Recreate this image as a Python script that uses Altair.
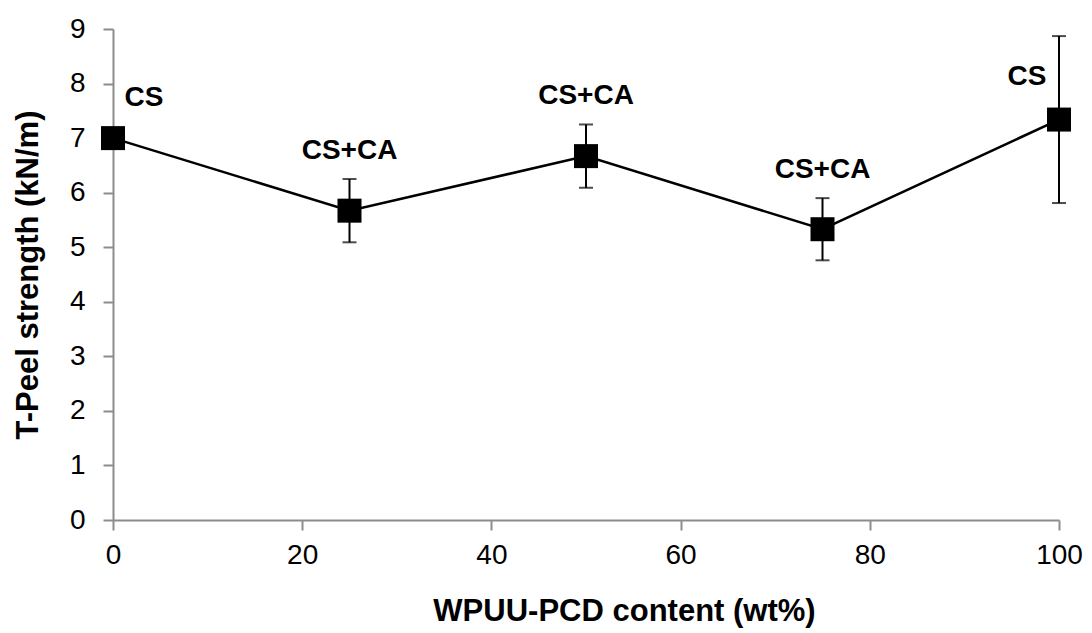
import altair as alt
import pandas as pd

content = [0, 25, 50, 75, 100]
strength = [7.0, 5.67, 6.67, 5.33, 7.34]
err = [0.0, 0.58, 0.58, 0.57, 1.53]
labels = ["CS", "CS+CA", "CS+CA", "CS+CA", "CS"]
label_side = ["right", "top", "top", "top", "left"]

df = pd.DataFrame({
    "x": content,
    "y": strength,
    "lo": [s - e for s, e in zip(strength, err)],
    "hi": [s + e for s, e in zip(strength, err)],
    "label": labels,
    "side": label_side,
})

FONT = "Liberation Sans"

xs = alt.X("x:Q", scale=alt.Scale(domain=[0, 100], nice=False),
           axis=alt.Axis(values=[0, 20, 40, 60, 80, 100], format="d", labelFlush=False,
                         title="WPUU-PCD content (wt%)", titleX=511))
ys = alt.Y("y:Q", scale=alt.Scale(domain=[0, 9], nice=False),
           axis=alt.Axis(values=list(range(10)), format="d", labelFlush=False,
                         title="T-Peel strength (kN/m)"))

base = alt.Chart(df)

line = base.mark_line(color="black", strokeWidth=2.5).encode(x=xs, y=ys)

eb = base.transform_filter("datum.hi > datum.lo")
rules = eb.mark_rule(color="black", strokeWidth=2).encode(x="x:Q", y="lo:Q", y2="hi:Q")
caps_hi = eb.mark_tick(color="black", orient="horizontal", size=14, thickness=2).encode(x="x:Q", y="hi:Q")
caps_lo = eb.mark_tick(color="black", orient="horizontal", size=14, thickness=2).encode(x="x:Q", y="lo:Q")

points = base.mark_square(color="black", size=576, opacity=1, filled=True).encode(x=xs, y=ys)

TS = 28
txt_top = base.transform_filter("datum.side == 'top'").mark_text(
    font=FONT, fontSize=TS, fontWeight="bold", color="black", dy=-28, baseline="middle").encode(
    x="x:Q", y="hi:Q", text="label:N")
txt_right = base.transform_filter("datum.side == 'right'").mark_text(
    font=FONT, fontSize=TS, fontWeight="bold", color="black", dx=31, dy=-40, baseline="middle").encode(
    x="x:Q", y="y:Q", text="label:N")
txt_left = base.transform_filter("datum.side == 'left'").mark_text(
    font=FONT, fontSize=TS, fontWeight="bold", color="black", dx=-32, dy=-43, baseline="middle").encode(
    x="x:Q", y="y:Q", text="label:N")

chart = alt.layer(line, rules, caps_hi, caps_lo, points, txt_top, txt_right, txt_left).properties(
    width=946, height=491,
    autosize=alt.AutoSizeParams(type="none"),
    padding={"left": 113, "top": 29, "right": 33, "bottom": 113},
).configure_view(stroke=None).configure_axis(
    grid=False,
    domainColor="#8c8c8c", domainWidth=2,
    tickColor="#8c8c8c", tickWidth=2, tickSize=10,
    labelFont=FONT, labelFontSize=28, labelColor="black",
    titleFont=FONT, titleFontSize=31, titleFontWeight="bold", titleColor="black",
).configure_axisX(labelPadding=11, titlePadding=27).configure_axisY(
    labelPadding=18, titlePadding=25)

chart.save("out.html", embed_options={"renderer": "svg", "actions": False})
